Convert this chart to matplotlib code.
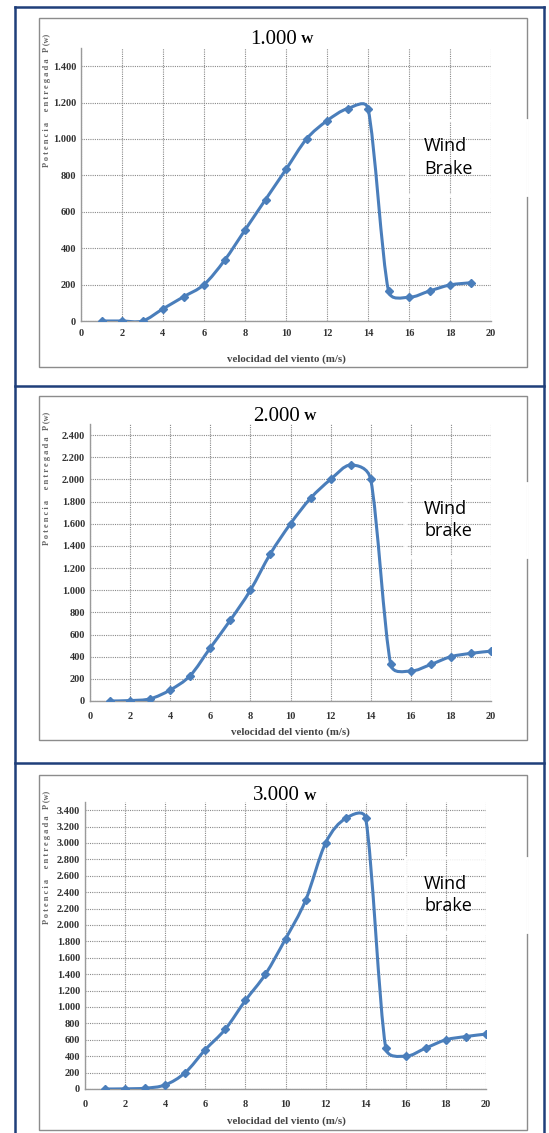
import numpy as np
import matplotlib
matplotlib.use("Agg")
import matplotlib.pyplot as plt
from matplotlib.path import Path
from matplotlib.patches import PathPatch, Rectangle
from matplotlib.ticker import FuncFormatter, MultipleLocator

# data
wind_1 = [1, 2, 3, 4, 5, 6, 7, 8, 9, 10, 11, 12, 13, 14, 15, 16, 17, 18, 19]
power_1 = [0, 0, 0, 67, 133, 200, 333, 500, 667, 833, 1000, 1100, 1167, 1167,
           165, 130, 165, 198, 210]

wind_2 = [1, 2, 3, 4, 5, 6, 7, 8, 9, 10, 11, 12, 13, 14, 15, 16, 17, 18, 19, 20]
power_2 = [0, 4, 20, 100, 230, 480, 730, 1000, 1330, 1600, 1830, 2000, 2130, 2000,
           330, 270, 330, 400, 430, 450]

wind_3 = [1, 2, 3, 4, 5, 6, 7, 8, 9, 10, 11, 12, 13, 14, 15, 16, 17, 18, 19, 20]
power_3 = [0, 2, 10, 50, 200, 480, 730, 1080, 1400, 1830, 2300, 3000, 3300, 3300,
           500, 400, 500, 600, 640, 670]

titles = ["1.000", "2.000", "3.000"]
brake_labels = ["Wind\nBrake", "Wind\nbrake", "Wind\nbrake"]
y_max = [1500, 2500, 3500]

W, H = 549, 1133
LINE = "#4A7EBB"
SERIF = "Liberation Serif"


def fx(px):
    return px / W


def fy(py):
    return 1 - py / H


def smooth_path(x, y, sx, sy):
    # excel-like smoothed line: catmull-rom bezier, handles capped at half a segment
    q = np.column_stack([np.asarray(x, float) * sx, np.asarray(y, float) * sy])
    n = len(q)
    verts = [tuple(q[0])]
    codes = [Path.MOVETO]
    for i in range(n - 1):
        p0 = q[max(i - 1, 0)]
        p1, p2 = q[i], q[i + 1]
        p3 = q[min(i + 2, n - 1)]
        seg = np.hypot(*(p2 - p1))
        d1 = (p2 - p0) / 6
        d2 = (p3 - p1) / 6
        for d in (d1, d2):
            ln = np.hypot(*d)
            if ln > seg / 2:
                d *= seg / 2 / ln
        verts += [tuple(p1 + d1), tuple(p2 - d2), tuple(p2)]
        codes += [Path.CURVE4] * 3
    verts = [(p[0] / sx, p[1] / sy) for p in verts]
    return Path(verts, codes)


fig = plt.figure(figsize=(W / 100, H / 100), dpi=100)
fig.patch.set_facecolor("white")

# panel geometry in pixels
axes_px = [(81, 491, 48, 321), (90, 491, 424, 701), (85, 486, 802, 1089)]
inner_box = [(39, 527, 18, 367), (39, 527, 396, 740), (39, 527, 775, 1130)]
brake_box = [(407, 527, 120, 195), (405, 527, 483, 557), (405, 527, 858, 932)]
title_xy = [(297, 39), (300, 416), (300, 796)]
xlabel_xy = [(286, 359), (290, 732), (286, 1121)]
xpad = [6.0, 8.0, 8.0]
data = [(wind_1, power_1), (wind_2, power_2), (wind_3, power_3)]

# navy table borders
for yy in (7, 386, 763):
    fig.add_artist(plt.Line2D([fx(15), fx(544)], [fy(yy), fy(yy)],
                              color="#1F3F7A", lw=1.8))
for xx in (15, 544):
    fig.add_artist(plt.Line2D([fx(xx), fx(xx)], [fy(7), fy(1140)],
                              color="#1F3F7A", lw=1.8))

for k in range(3):
    l, r, t, b = inner_box[k]
    fig.add_artist(Rectangle((fx(l), fy(b)), fx(r - l), (b - t) / H,
                             fill=False, edgecolor="#8C8C8C", lw=1.0))

    l, r, t, b = axes_px[k]
    ax = fig.add_axes([fx(l), fy(b), fx(r - l), (b - t) / H])
    xs, ys = data[k]
    sx = (r - l) / 20
    sy = (b - t) / y_max[k]
    ax.add_patch(PathPatch(smooth_path(xs, ys, sx, sy), fill=False,
                           edgecolor=LINE, lw=2.2, zorder=3))
    ax.plot(xs, ys, ls="none", marker="D", ms=3.8, color=LINE, zorder=4)

    ax.set_xlim(0, 20)
    ax.set_ylim(0, y_max[k])
    ax.xaxis.set_major_locator(MultipleLocator(2))
    ax.yaxis.set_major_locator(MultipleLocator(200))
    ax.yaxis.set_major_formatter(
        FuncFormatter(lambda v, p: f"{int(v):,}".replace(",", ".")))
    ax.grid(True, color="#8A8A8A", ls=(0, (1, 1)), lw=0.8)
    ax.set_axisbelow(True)
    for s in ("top", "right"):
        ax.spines[s].set_visible(False)
    for s in ("left", "bottom"):
        ax.spines[s].set_color("#9A9A9A")
        ax.spines[s].set_linewidth(1.0)
    ax.tick_params(length=0, labelsize=7.5, labelcolor="#333333")
    ax.tick_params(axis="x", pad=xpad[k])
    ax.tick_params(axis="y", pad=3.5)
    for lab in ax.get_xticklabels() + ax.get_yticklabels():
        lab.set_fontfamily(SERIF)
        lab.set_fontweight("bold")

    # title and axis labels
    tx, ty = title_xy[k]
    fig.text(fx(tx), fy(ty), titles[k],
             family=SERIF, fontsize=15, ha="right", va="center")
    fig.text(fx(tx + 4), fy(ty + 1), "W", family=SERIF,
             fontsize=9, fontweight="bold", ha="left", va="center")
    lx, ly = xlabel_xy[k]
    fig.text(fx(lx), fy(ly),
             "velocidad del viento (m/s)", family=SERIF, fontsize=7.8,
             fontweight="bold", color="#444444", ha="center", va="center")
    top_box = inner_box[k][2]
    fig.text(fx(47), fy(top_box + 82), "P o t e n c i a     e n t r e g a d a   P (w)",
             family=SERIF, fontsize=6, fontweight="bold", color="#666666",
             rotation=90, ha="center", va="center")

    # note box: white outline that breaks the grid
    bl, br, bt, bb = brake_box[k]
    fig.add_artist(Rectangle((fx(bl), fy(bb)), fx(br - bl), (bb - bt) / H,
                             facecolor="none", edgecolor="white", lw=2.0, zorder=5))
    fig.text(fx(424), fy((bt + bb) / 2), brake_labels[k], family="Open Sans",
             fontsize=13, ha="left", va="center", linespacing=1.3, zorder=6)

fig.savefig("out.png", dpi=100, facecolor="white")
